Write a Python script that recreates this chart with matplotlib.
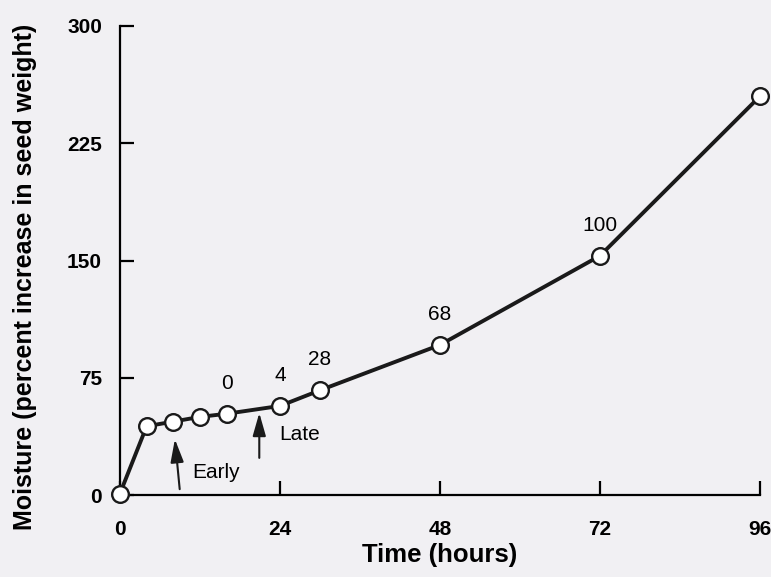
import matplotlib.pyplot as plt

plt.rcParams["font.family"] = ["Liberation Sans", "DejaVu Sans"]

hours = [0, 4, 8, 12, 16, 24, 30, 48, 72, 96]
moisture = [1, 44, 47, 50, 52, 57, 67, 96, 153, 255]
label_idx = [4, 5, 6, 7, 8]
point_labels = ["0", "4", "28", "68", "100"]
x_ticks = [0, 24, 48, 72, 96]
y_ticks = [0, 75, 150, 225, 300]

bg = "#f1f0f3"
fig = plt.figure(figsize=(7.71, 5.77), dpi=100, facecolor=bg)
ax = fig.add_axes([0.1556, 0.142, 0.830, 0.813], facecolor=bg)

ax.plot(hours, moisture, color="#1a1a1a", lw=2.8, marker="o", ms=12,
        mfc="white", mec="#1a1a1a", mew=1.7, clip_on=False, zorder=3)

for i, lab in zip(label_idx, point_labels):
    ax.annotate(lab, (hours[i], moisture[i]), xytext=(0, 15), textcoords="offset points",
                ha="center", va="bottom", fontsize=15)

# arrows for Early / Late
arrow = dict(arrowstyle="-|>,head_length=1.4,head_width=0.4", color="#1a1a1a", lw=1.5)
ax.annotate("", xy=(8.2, 37.5), xytext=(9.0, 2), arrowprops=arrow)
ax.text(10.9, 14.5, "Early", fontsize=15, va="center", ha="left")
ax.annotate("", xy=(20.9, 54.3), xytext=(20.9, 22), arrowprops=arrow)
ax.text(23.9, 38.5, "Late", fontsize=15, va="center", ha="left")

ax.set_xlim(0, 96)
ax.set_ylim(0, 300)
ax.set_xticks(x_ticks)
ax.set_yticks(y_ticks)
ax.spines["top"].set_visible(False)
ax.spines["right"].set_visible(False)
for s in ["left", "bottom"]:
    ax.spines[s].set_linewidth(1.6)
ax.tick_params(direction="in", length=10, width=1.6, labelsize=15)
ax.tick_params(axis="x", pad=18)
ax.tick_params(axis="y", pad=13)
for t in ax.get_xticklabels() + ax.get_yticklabels():
    t.set_fontweight("bold")

ax.set_xlabel("Time (hours)", fontsize=18.5, fontweight="bold", labelpad=3)
ax.set_ylabel("Moisture (percent increase in seed weight)", fontsize=18, fontweight="bold")
ax.yaxis.set_label_coords(-0.13, 0.465)

fig.savefig("out.png", dpi=100, facecolor=bg)
